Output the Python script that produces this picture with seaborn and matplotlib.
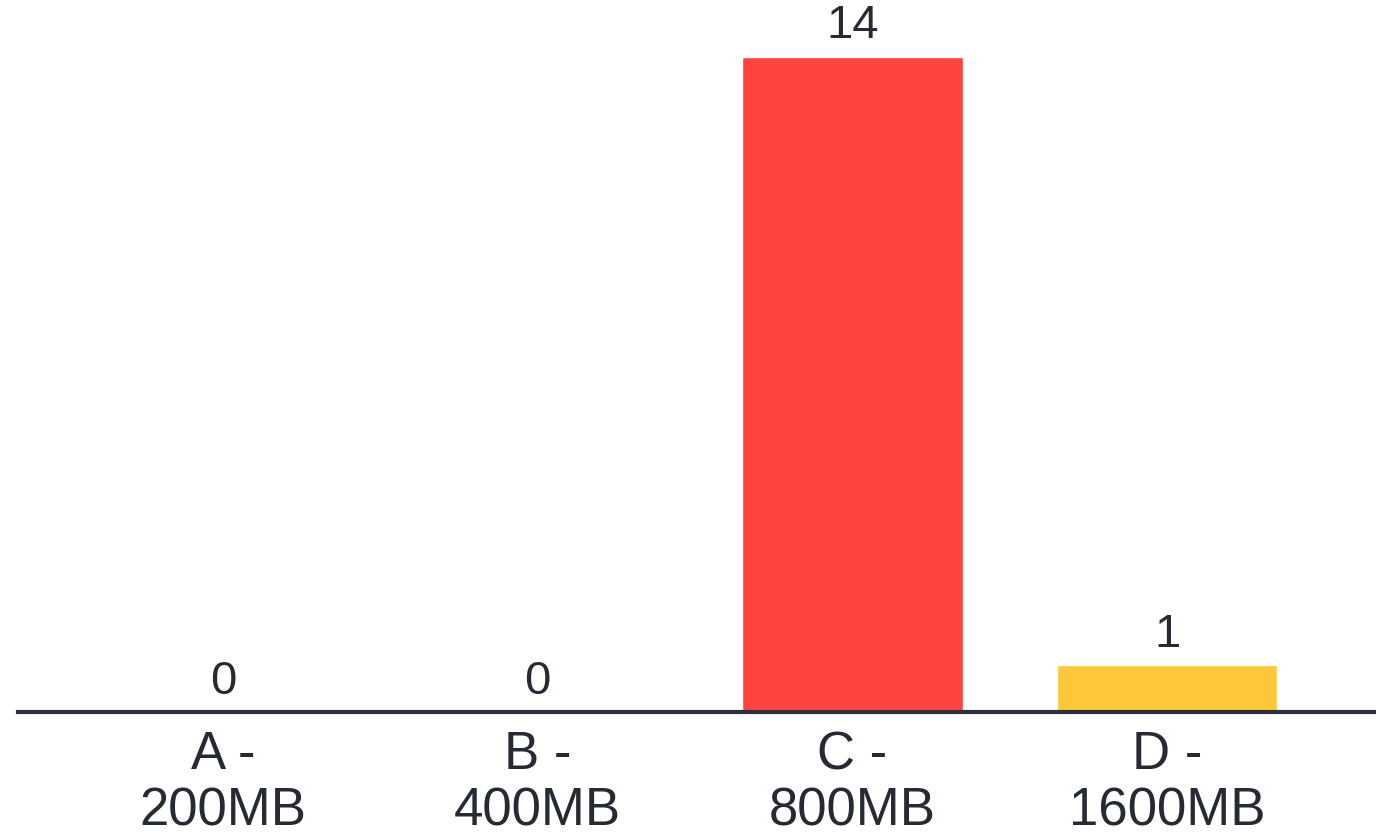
import matplotlib
matplotlib.use("Agg")
import matplotlib.pyplot as plt
import seaborn as sns
import pandas as pd

# Plan size categories and their counts
categories = ["A -\n200MB", "B -\n400MB", "C -\n800MB", "D -\n1600MB"]
counts = [0, 0, 14, 1]
bar_colors = ["#FF4340", "#FF4340", "#FF4340", "#FDC73A"]

TEXT = "#262A33"

sns.set_theme(style="white")
plt.rcParams["font.family"] = ["Liberation Sans", "DejaVu Sans"]

df = pd.DataFrame({"plan": categories, "count": counts})

fig = plt.figure(figsize=(13.76, 8.35), dpi=100)
ax = fig.add_axes([18 / 1376, (835 - 712) / 835, (1374 - 18) / 1376, 712 / 835])

sns.barplot(data=df, x="plan", y="count", hue="plan", palette=bar_colors,
            width=0.7, legend=False, ax=ax, saturation=1)

for container in ax.containers:
    ax.bar_label(container, fmt="%d", padding=6, fontsize=34, color=TEXT)

ax.set_xlim(-0.651, 3.657)
ax.set_ylim(0, 15.21)
ax.set_xlabel("")
ax.set_ylabel("")
ax.set_yticks([])
for side in ("top", "right", "left"):
    ax.spines[side].set_visible(False)
ax.spines["bottom"].set_color("#2B2F3A")
ax.spines["bottom"].set_linewidth(3)
ax.tick_params(axis="x", length=0, pad=13, labelsize=38, labelcolor=TEXT)
for lbl in ax.get_xticklabels():
    lbl.set_linespacing(1.17)

fig.savefig("out.png", dpi=100, facecolor="white")
